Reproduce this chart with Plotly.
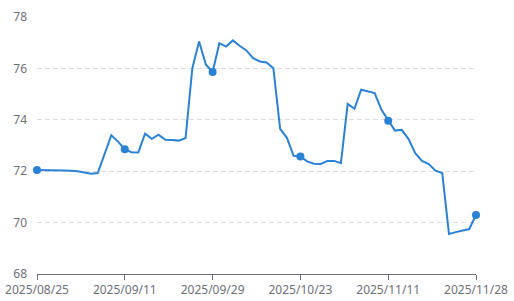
import plotly.graph_objects as go

dates = [
    "2025/08/25", "2025/08/26", "2025/08/27", "2025/08/28", "2025/08/29",
    "2025/09/01", "2025/09/02", "2025/09/03", "2025/09/04", "2025/09/05",
    "2025/09/08", "2025/09/09", "2025/09/10", "2025/09/11",
    "2025/09/12", "2025/09/15", "2025/09/16", "2025/09/17", "2025/09/18",
    "2025/09/19", "2025/09/22", "2025/09/23", "2025/09/24", "2025/09/25",
    "2025/09/26", "2025/09/28", "2025/09/29",
    "2025/09/30", "2025/10/09", "2025/10/10", "2025/10/11", "2025/10/13",
    "2025/10/14", "2025/10/15", "2025/10/16", "2025/10/17", "2025/10/20",
    "2025/10/21", "2025/10/22", "2025/10/23",
    "2025/10/24", "2025/10/27", "2025/10/28", "2025/10/29", "2025/10/30",
    "2025/10/31", "2025/11/03", "2025/11/04", "2025/11/05", "2025/11/06",
    "2025/11/07", "2025/11/10", "2025/11/11",
    "2025/11/12", "2025/11/13", "2025/11/14", "2025/11/17", "2025/11/18",
    "2025/11/19", "2025/11/20", "2025/11/21", "2025/11/24", "2025/11/25",
    "2025/11/26", "2025/11/27", "2025/11/28",
]

values = [
    72.05, 72.05, 72.05, 72.03, 72.03, 72.02, 72.00, 71.95, 71.90, 71.93,
    72.65, 73.40, 73.15, 72.85, 72.74, 72.73, 73.46, 73.26, 73.42, 73.22,
    73.21, 73.19, 73.29, 76.01, 77.05, 76.15, 75.86, 76.98, 76.85, 77.09,
    76.88, 76.70, 76.40, 76.27, 76.23, 76.01, 73.65, 73.30, 72.60, 72.57,
    72.38, 72.29, 72.28, 72.40, 72.40, 72.31, 74.62, 74.43, 75.17, 75.10,
    75.04, 74.39, 73.96, 73.58, 73.61, 73.26, 72.70, 72.40, 72.28, 72.02,
    71.93, 69.56, 69.63, 69.68, 69.75, 70.30,
]

marker_dates = ["2025/08/25", "2025/09/11", "2025/09/29",
                "2025/10/23", "2025/11/11", "2025/11/28"]
y_ticks = [68, 70, 72, 74, 76, 78]

line_color = "#2b82d4"
label_color = "#6e7079"

marker_values = [values[dates.index(d)] for d in marker_dates]

fig = go.Figure()
fig.add_trace(go.Scatter(
    x=dates, y=values, mode="lines",
    line=dict(color=line_color, width=2),
    hoverinfo="x+y", cliponaxis=False,
))
fig.add_trace(go.Scatter(
    x=marker_dates, y=marker_values, mode="markers",
    marker=dict(color=line_color, size=8),
    hoverinfo="skip", cliponaxis=False,
))

fig.update_layout(
    width=514, height=301,
    margin=dict(l=37, r=38, t=17, b=27),
    paper_bgcolor="white", plot_bgcolor="white",
    showlegend=False,
    font=dict(family="Noto Sans, Open Sans, sans-serif", size=12, color=label_color),
    xaxis=dict(
        type="category",
        categoryorder="array", categoryarray=dates,
        range=[0, len(dates) - 1],
        tickmode="array", tickvals=marker_dates, ticktext=marker_dates,
        showgrid=False, zeroline=False,
        showline=True, linecolor=label_color, linewidth=1,
        ticks="outside", ticklen=5, tickcolor=label_color,
        tickfont=dict(size=12, color=label_color),
        ticklabelstandoff=0,
        automargin=False,
    ),
    yaxis=dict(
        range=[68, 78],
        tickmode="array", tickvals=y_ticks,
        showgrid=True, gridcolor="#dcdcdc", griddash="5px,3px", gridwidth=1,
        zeroline=False, showline=False,
        tickfont=dict(size=12, color=label_color),
        ticklabelstandoff=9,
        automargin=False,
    ),
)

fig.write_html("out.html")
